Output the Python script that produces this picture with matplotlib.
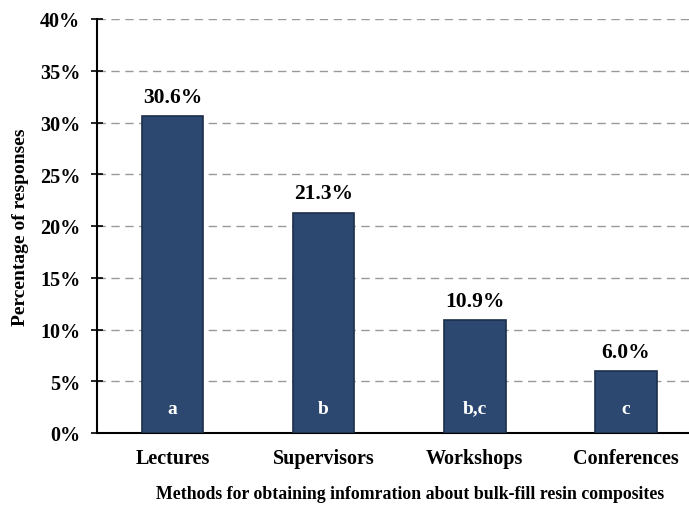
import matplotlib.pyplot as plt
import numpy as np

plt.rcParams['font.family'] = ['Liberation Serif', 'DejaVu Serif']
plt.rcParams['font.weight'] = 'bold'

categories = ['Lectures', 'Supervisors', 'Workshops', 'Conferences']
values = [30.6, 21.3, 10.9, 6.0]
letters = ['a', 'b', 'b,c', 'c']

fig = plt.figure(figsize=(6.89, 5.06), dpi=100)
ax = fig.add_axes([97/689, (506-434)/506, (689-97)/689, (434-20)/506])

x = np.arange(len(categories))
bars = ax.bar(x, values, width=0.41, color='#2c4870', edgecolor='#1c2f4a', linewidth=1.2, zorder=3)

for xi, v, l in zip(x, values, letters):
    ax.text(xi, v + 0.9, f'{v:.1f}%', ha='center', va='bottom', fontsize=15.5, fontweight='bold')
    ax.text(xi, 2.4, l, ha='center', va='center', fontsize=14, fontweight='bold', color='white', zorder=4)

ax.set_ylim(0, 40)
ax.set_xlim(-0.5, 3.42)
ax.set_yticks(np.arange(0, 41, 5))
ax.set_yticklabels([f'{t}%' for t in range(0, 41, 5)], fontsize=14.5)
ax.set_xticks(x)
ax.set_xticklabels(categories, fontsize=14.5)
ax.tick_params(axis='x', length=0, pad=11)
ax.tick_params(axis='y', direction='inout', length=8, width=1.2, pad=8)
ax.yaxis.grid(True, linestyle=(0, (6, 4)), color='#999999', linewidth=1, zorder=0)

for s in ['top', 'right']:
    ax.spines[s].set_visible(False)
ax.spines['left'].set_linewidth(1.5)
ax.spines['bottom'].set_linewidth(1.5)

ax.set_ylabel('Percentage of responses', fontsize=14, fontweight='bold', labelpad=8)
fig.text(0.595, 0.022, 'Methods for obtaining infomration about bulk-fill resin composites',
         ha='center', va='center', fontsize=12.8, fontweight='bold')

fig.savefig('out.png', dpi=100)
